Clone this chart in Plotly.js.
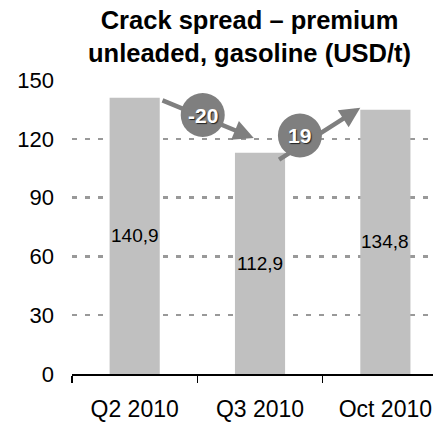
<!DOCTYPE html>
<html>
<head>
<meta charset="utf-8">
<script src="https://cdn.plot.ly/plotly-3.0.1.min.js"></script>
<style>html,body{margin:0;padding:0;background:#fff;}#chart{width:441px;height:422px;}</style>
</head>
<body>
<div id="chart"></div>
<script>
const categories = ['Q2 2010', 'Q3 2010', 'Oct 2010'];
const values = [140.9, 112.9, 134.8];
const changeLabels = ['-20', '19'];
const yTicks = [0, 30, 60, 90, 120, 150];

const FONT = 'Arial, "Liberation Sans", sans-serif';
const GRAY = '#7f7f7f';

// arrow geometry relative to the bars (offsets in category / value units)
const arrowStyle = [
  {tailDx: 0.21, tailDy: -1, headDx: -0.05, headDy: 7.5, circleT: 0.45, circleDy: 1},
  {tailDx: 0.14, tailDy: -4, headDx: -0.2, headDy: 1, circleT: 0.27, circleDy: 5.5}
];

const trace = {
  type: 'bar',
  x: categories,
  y: values,
  marker: {color: '#c0c0c0', line: {width: 0}},
  hoverinfo: 'skip'
};

const annotations = [];
const shapes = [];

annotations.push({
  xref: 'paper', yref: 'paper', x: (249 - 72) / 361, y: (374 - 4) / 294,
  xanchor: 'center', yanchor: 'top',
  text: '<b>Crack spread – premium<br>unleaded, gasoline (USD/t)</b>',
  showarrow: false,
  font: {family: FONT, size: 25.5, color: '#000'}
});

values.forEach((v, i) => {
  annotations.push({
    x: i, y: v / 2, xref: 'x', yref: 'y',
    text: v.toFixed(1).replace('.', ','),
    showarrow: false,
    font: {family: FONT, size: 19, color: '#000'}
  });
});

for (let i = 0; i < values.length - 1; i++) {
  const s = arrowStyle[i];
  const tx = i + s.tailDx, ty = values[i] + s.tailDy;
  const hx = i + 1 + s.headDx, hy = values[i + 1] + s.headDy;
  annotations.push({
    x: hx, y: hy, ax: tx, ay: ty,
    xref: 'x', yref: 'y', axref: 'x', ayref: 'y',
    text: '', showarrow: true,
    arrowhead: 2, arrowsize: 0.9, arrowwidth: 4.5, arrowcolor: GRAY,
    standoff: 0, startstandoff: 0
  });
  const cx = tx + (hx - tx) * s.circleT;
  const cy = ty + (hy - ty) * s.circleT + s.circleDy;
  shapes.push({
    type: 'circle', xref: 'x', yref: 'y',
    xsizemode: 'pixel', ysizemode: 'pixel',
    xanchor: cx, yanchor: cy,
    x0: -22, x1: 22, y0: -22, y1: 22,
    fillcolor: GRAY, line: {width: 0}, layer: 'above'
  });
  annotations.push({
    x: cx, y: cy, xref: 'x', yref: 'y',
    text: '<b>' + changeLabels[i] + '</b>',
    showarrow: false,
    font: {family: FONT, size: 21, color: '#fff', shadow: '1px 1px 1px #222'}
  });
}

const layout = {
  width: 441, height: 422,
  margin: {l: 72, r: 8, t: 80, b: 48, pad: 0},
  paper_bgcolor: '#fff', plot_bgcolor: '#fff',
  showlegend: false,
  bargap: 0.6,
  xaxis: {
    type: 'category', automargin: false,
    range: [-0.5, 2.38],
    showline: true, linecolor: '#000', linewidth: 1.5,
    ticks: 'outside', tickson: 'boundaries', ticklen: 7, tickwidth: 1.5, tickcolor: '#000',
    ticklabelstandoff: 14,
    tickfont: {family: FONT, size: 23, color: '#000'},
    showgrid: false, zeroline: false, fixedrange: true
  },
  yaxis: {
    range: [0, 150], automargin: false,
    tickvals: yTicks,
    ticktext: yTicks.map(String),
    showgrid: true, gridcolor: '#999', gridwidth: 2.5, griddash: '5px,8px',
    zeroline: false, showline: false, ticks: '',
    ticklabelstandoff: 17,
    tickfont: {family: FONT, size: 22, color: '#000'},
    fixedrange: true
  },
  annotations: annotations,
  shapes: shapes
};

Plotly.newPlot('chart', [trace], layout, {displayModeBar: false, staticPlot: true});
</script>
</body>
</html>
